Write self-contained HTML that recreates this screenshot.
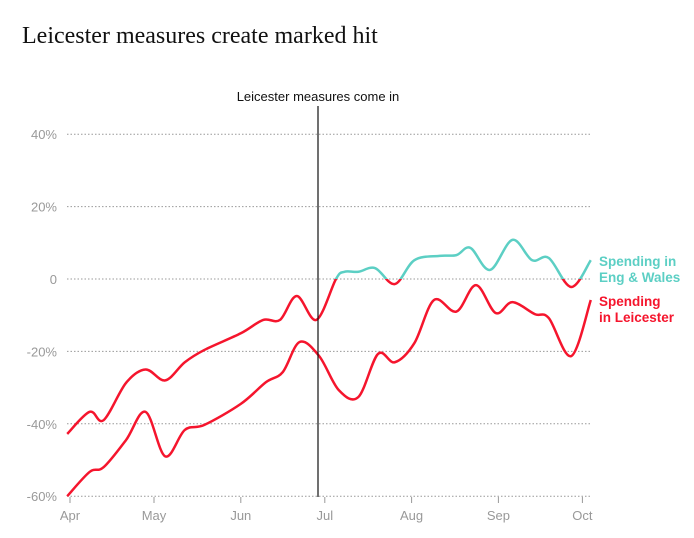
<!DOCTYPE html>
<html><head><meta charset="utf-8"><style>
body{margin:0;background:#fff;width:694px;height:538px;overflow:hidden}
svg{display:block}
text{font-family:"Liberation Sans",sans-serif}
</style></head><body>
<svg width="694" height="538">
<text x="22" y="43" font-family="Liberation Serif,serif" style="font-family:'Liberation Serif',serif" font-size="24" fill="#111">Leicester measures create marked hit</text>
<g id="grid"></g><g id="xaxis"></g>
<defs>
<clipPath id="above"><rect id="clipA" x="0" y="0" width="694" height="279"/></clipPath>
<clipPath id="below"><rect id="clipB" x="0" y="279" width="694" height="300"/></clipPath>
</defs>
<g id="lines"></g>
<line x1="318" x2="318" y1="106" y2="497" stroke="#111" stroke-width="1.2"/>
<text x="318" y="101" text-anchor="middle" font-size="13" fill="#111">Leicester measures come in</text>
<text x="599" y="266" font-size="13.5" font-weight="bold" fill="#5ccfc4"><tspan x="599">Spending in</tspan><tspan x="599" dy="16">Eng &amp; Wales</tspan></text>
<text x="599" y="306" font-size="13.5" font-weight="bold" fill="#f5152d"><tspan x="599">Spending</tspan><tspan x="599" dy="16">in Leicester</tspan></text>
</svg>
<script>
const yTicks=[40,20,0,-20,-40,-60];
const yTickLabels=["40%","20%","0","-20%","-40%","-60%"];
const monthDays=[0,30,61,91,122,153,183];
const monthLabels=["Apr","May","Jun","Jul","Aug","Sep","Oct"];
const ewDays=[-1,7,12,20,27,34,41,48,61,69,75,81,88,95,98,103,109,116,123,132,138,143,150,158,165,171,179,186];
const ewValues=[-42.8,-36.7,-39,-28.7,-25,-28,-23,-19.6,-15,-11.3,-11.3,-4.7,-11.3,0,2,2,3,-1.4,5.2,6.4,6.6,8.6,2.5,10.8,5.2,5.8,-2.2,5.2];
const lcDays=[-1,7,12,20,27,34,41,48,61,70,76,82,89,96,103,110,116,123,130,138,145,152,158,166,171,179,186];
const lcValues=[-60,-53.3,-52,-44.5,-36.7,-49,-41.7,-40.3,-34.5,-28.5,-25.7,-17.4,-21.3,-30.7,-32.6,-20.7,-23,-17.7,-5.8,-9,-1.7,-9.4,-6.4,-9.7,-10.8,-21.3,-5.8];
const X=d=>70+d*2.8, Y=v=>279-v*3.62;
const NS="http://www.w3.org/2000/svg";
const svgEl=(t,a)=>{const e=document.createElementNS(NS,t);for(const k in a)e.setAttribute(k,a[k]);return e;};
const grid=document.getElementById('grid');
yTicks.forEach((v,i)=>{
 const l=svgEl('line',{x1:67,x2:590,y1:Y(v),y2:Y(v),stroke:'#999','stroke-dasharray':'1.5 2','stroke-width':1});
 
 
 grid.appendChild(l);
 const t=svgEl('text',{x:57,y:Y(v)+5,'text-anchor':'end','font-size':13,fill:'#999'});
 t.textContent=yTickLabels[i];
 
 
 grid.appendChild(t);
});
const xa=document.getElementById('xaxis');
monthDays.forEach((d,i)=>{
 const tk=svgEl('line',{x1:X(d),x2:X(d),y1:497,y2:503,stroke:'#999'});
 
 
 xa.appendChild(tk);
 const t=svgEl('text',{x:X(d),y:520,'text-anchor':'middle','font-size':13,fill:'#999'});
 t.textContent=monthLabels[i];
 
 
 xa.appendChild(t);
});
function path(ds,vs){
 const p=ds.map((d,i)=>[X(d),Y(vs[i])]);
 let s=`M${p[0][0]},${p[0][1]}`;
 for(let i=0;i<p.length-1;i++){
  const p0=p[i-1]||p[i],p1=p[i],p2=p[i+1],p3=p[i+2]||p2;
  const c1=[p1[0]+(p2[0]-p0[0])/6,p1[1]+(p2[1]-p0[1])/6];
  const c2=[p2[0]-(p3[0]-p1[0])/6,p2[1]-(p3[1]-p1[1])/6];
  s+=`C${c1[0]},${c1[1]} ${c2[0]},${c2[1]} ${p2[0]},${p2[1]}`;
 }
 return s;
}
document.getElementById('clipA').setAttribute('height',Y(0));
document.getElementById('clipB').setAttribute('y',Y(0));
const lines=document.getElementById('lines');
const ewd=path(ewDays,ewValues);
const a=svgEl('path',{d:ewd,fill:'none',stroke:'#5ccfc4','stroke-width':2.5,'clip-path':'url(#above)'});


lines.appendChild(a);
const b=svgEl('path',{d:ewd,fill:'none',stroke:'#f5152d','stroke-width':2.5,'clip-path':'url(#below)'});


lines.appendChild(b);
const c=svgEl('path',{d:path(lcDays,lcValues),fill:'none',stroke:'#f5152d','stroke-width':2.5});


lines.appendChild(c);
</script>
</body></html>
